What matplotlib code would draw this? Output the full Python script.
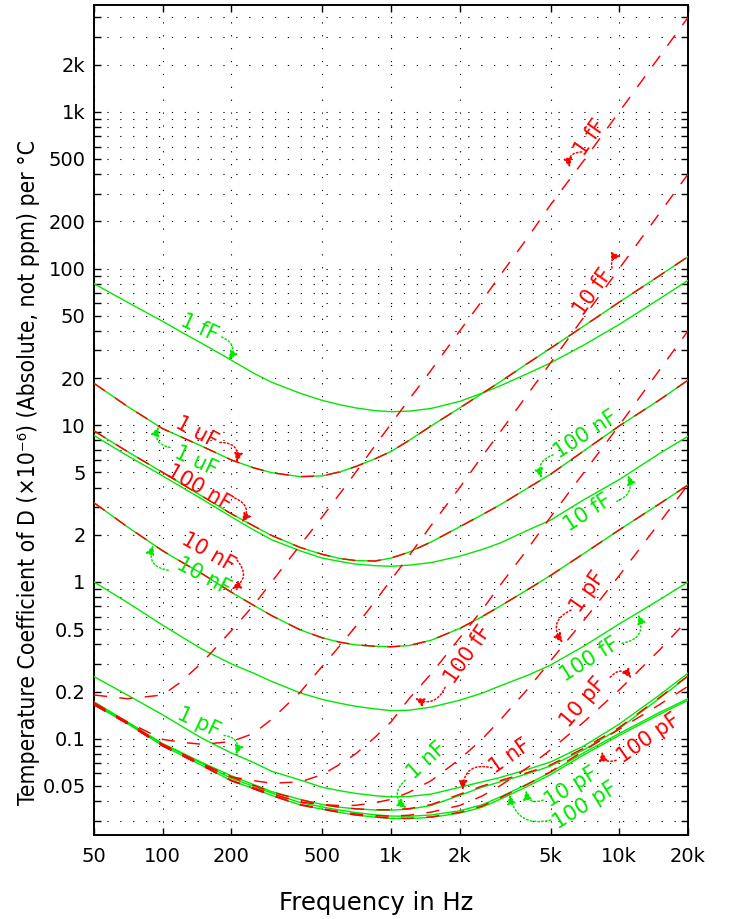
import matplotlib
matplotlib.use("Agg")
import matplotlib.pyplot as plt
from matplotlib.ticker import FixedLocator, FixedFormatter, NullLocator

freq = [50, 70, 100, 120, 150, 200, 250, 300, 400, 500, 600, 700, 850, 1000, 1200, 1500,
        2000, 2500, 3000, 4000, 5000, 7000, 10000, 15000, 20000]

# green (solid) curves
g_1fF = [80, 61, 46, 39.5, 33, 26, 21.5, 18.8, 16.0, 14.4, 13.5, 12.9, 12.4, 12.2, 12.3, 12.8,
         14.2, 16.0, 17.8, 21.5, 25, 32.5, 44, 64, 84]
g_10fF = [8.6, 6.4, 4.75, 4.06, 3.35, 2.6, 2.15, 1.86, 1.58, 1.42, 1.35, 1.3, 1.27, 1.26, 1.28, 1.33,
          1.46, 1.61, 1.77, 2.15, 2.48, 3.35, 4.5, 6.6, 8.5]
g_100fF = [1.0, 0.74, 0.53, 0.45, 0.37, 0.30, 0.262, 0.232, 0.196, 0.178, 0.168, 0.161, 0.155, 0.151, 0.152, 0.159,
           0.176, 0.195, 0.217, 0.255, 0.295, 0.39, 0.54, 0.77, 1.0]
g_1pF = [0.249, 0.19, 0.142, 0.121, 0.1, 0.081, 0.0705, 0.062, 0.0545, 0.049, 0.0465, 0.0448, 0.0433, 0.0425, 0.0428, 0.0443,
         0.049, 0.053, 0.0565, 0.064, 0.071, 0.09, 0.124, 0.19, 0.262]
g_10pF = [0.167, 0.127, 0.092, 0.081, 0.069, 0.0558, 0.0497, 0.045, 0.0391, 0.0367, 0.035, 0.0338, 0.0327, 0.0321, 0.032, 0.0326,
          0.0347, 0.0378, 0.0424, 0.0517, 0.061, 0.0815, 0.108, 0.147, 0.18]
g_100pF = [0.165, 0.125, 0.09, 0.079, 0.067, 0.054, 0.048, 0.0435, 0.0378, 0.0355, 0.0338, 0.0326, 0.0316, 0.031, 0.0309, 0.0315,
           0.0335, 0.0365, 0.041, 0.05, 0.059, 0.079, 0.105, 0.143, 0.176]
g_1nF = [0.172, 0.128, 0.093, 0.082, 0.07, 0.058, 0.051, 0.046, 0.041, 0.038, 0.0365, 0.0357, 0.0351, 0.035, 0.0355, 0.0375,
         0.0435, 0.049, 0.053, 0.06, 0.067, 0.085, 0.116, 0.181, 0.25]
g_10nF = [3.2, 2.25, 1.58, 1.35, 1.12, 0.86, 0.71, 0.61, 0.495, 0.44, 0.412, 0.397, 0.389, 0.386, 0.393, 0.425,
          0.505, 0.6, 0.7, 0.9, 1.1, 1.52, 2.15, 3.15, 4.16]
g_100nF = [9.2, 6.8, 5.0, 4.26, 3.5, 2.72, 2.28, 1.98, 1.66, 1.5, 1.41, 1.37, 1.36, 1.42, 1.55, 1.8,
           2.25, 2.68, 3.1, 4.0, 4.87, 6.87, 9.9, 14.5, 19.4]
g_1uF = [18.5, 13.2, 9.5, 8.44, 7.3, 6.0, 5.35, 4.98, 4.7, 4.75, 5.05, 5.45, 6.1, 6.8, 8.0, 9.9,
         12.9, 15.9, 18.9, 25, 31, 43, 61, 90, 119]

# red (dashed) curves
r_1fF = [0.19, 0.18, 0.19, 0.23, 0.31, 0.49, 0.71, 1.0, 1.72, 2.6, 3.7, 5.0, 7.4, 10.2, 14.6, 22.5,
         40, 62, 90, 160, 255, 490, 1000, 2250, 4000]
r_10fF = [0.168, 0.128, 0.099, 0.095, 0.092, 0.096, 0.108, 0.133, 0.198, 0.29, 0.395, 0.52, 0.75, 1.03, 1.47, 2.3,
          4.0, 6.3, 9.0, 16, 25, 49, 100, 225, 400]
r_100fF = [0.165, 0.125, 0.09, 0.079, 0.068, 0.057, 0.054, 0.052, 0.053, 0.059, 0.069, 0.08, 0.102, 0.128, 0.18, 0.26,
           0.44, 0.66, 0.95, 1.65, 2.6, 5.0, 10, 22.5, 40]
r_1pF = [0.165, 0.125, 0.09, 0.079, 0.067, 0.054, 0.0486, 0.0444, 0.0394, 0.038, 0.0374, 0.0376, 0.039, 0.041, 0.0455, 0.054,
         0.074, 0.099, 0.131, 0.21, 0.314, 0.57, 1.1, 2.39, 4.18]
r_10pF = [0.165, 0.125, 0.09, 0.079, 0.067, 0.054, 0.048, 0.0435, 0.038, 0.0358, 0.0342, 0.0331, 0.0323, 0.032, 0.0325, 0.034,
          0.0375, 0.043, 0.05, 0.066, 0.085, 0.128, 0.205, 0.368, 0.576]
r_100pF = [0.165, 0.125, 0.09, 0.079, 0.067, 0.054, 0.048, 0.0435, 0.0378, 0.0355, 0.0338, 0.0326, 0.0317, 0.0311, 0.0311, 0.0317,
           0.0339, 0.0371, 0.0419, 0.0516, 0.0615, 0.084, 0.115, 0.165, 0.216]
r_1nF = [0.17, 0.127, 0.092, 0.081, 0.069, 0.057, 0.0505, 0.0457, 0.0408, 0.038, 0.0365, 0.0357, 0.0352, 0.0352, 0.0358, 0.038,
         0.0442, 0.0498, 0.054, 0.061, 0.068, 0.087, 0.118, 0.183, 0.252]
# for the three largest capacitors both models coincide
r_10nF = g_10nF
r_100nF = g_100nF
r_1uF = g_1uF

green_curves = [g_1fF, g_10fF, g_100fF, g_1pF, g_10pF, g_100pF, g_1nF, g_10nF, g_100nF, g_1uF]
red_curves = [r_1fF, r_10fF, r_100fF, r_1pF, r_10pF, r_100pF, r_1nF, r_10nF, r_100nF, r_1uF]

x_ticks = [50, 100, 200, 500, 1000, 2000, 5000, 10000, 20000]
x_labels = ["50", "100", "200", "500", "1k", "2k", "5k", "10k", "20k"]
y_ticks = [0.05, 0.1, 0.2, 0.5, 1, 2, 5, 10, 20, 50, 100, 200, 500, 1000, 2000]
y_labels = ["0.05", "0.1", "0.2", "0.5", "1", "2", "5", "10", "20", "50", "100", "200", "500", "1k", "2k"]
y_minor = [m * 10.0 ** e for e in range(-2, 4) for m in range(1, 10)]
y_minor = [v for v in y_minor if 0.025 < v < 4900 and v not in y_ticks]

GREEN = "#00e800"
RED = "#ff0000"

# inline labels: text, colour, text centre (axes frac), rotation, arrow start (axes frac), arrow tip (data), arc
labels = [
    ("1 fF", GREEN, (0.177, 0.611), -25, (0.215, 0.600), (194, 26), -0.6),
    ("1 uF", GREEN, (0.172, 0.451), -25, (0.128, 0.467), (96, 9.8), -0.6),
    ("100 nF", GREEN, (0.827, 0.482), 33, (0.773, 0.458), (4570, 4.6), 0.5),
    ("10 fF", GREEN, (0.832, 0.388), 33, (0.880, 0.402), (10900, 4.8), 0.5),
    ("10 nF", GREEN, (0.184, 0.312), -28, (0.125, 0.319), (91, 1.72), -0.6),
    ("1 pF", GREEN, (0.177, 0.136), -25, (0.219, 0.120), (209, 0.079), -0.6),
    ("100 fF", GREEN, (0.835, 0.211), 32, (0.889, 0.231), (12100, 0.62), 0.6),
    ("1 nF", GREEN, (0.560, 0.090), 42, (0.524, 0.066), (1170, 0.036), 0.6),
    ("10 pF", GREEN, (0.803, 0.058), 32, (0.756, 0.042), (3900, 0.047), -0.6),
    ("100 pF", GREEN, (0.827, 0.036), 32, (0.769, 0.018), (3300, 0.044), -0.5),
    ("1 fF", RED, (0.835, 0.840), 55, (0.821, 0.823), (6080, 440), 0.6),
    ("10 fF", RED, (0.840, 0.654), 55, (0.872, 0.683), (10200, 120), -0.6),
    ("1 uF", RED, (0.173, 0.485), -28, (0.212, 0.473), (211, 5.8), -0.6),
    ("100 nF", RED, (0.176, 0.419), -30, (0.237, 0.406), (222, 2.4), -0.6),
    ("10 nF", RED, (0.192, 0.341), -30, (0.241, 0.331), (200, 0.9), -0.6),
    ("100 fF", RED, (0.630, 0.217), 55, (0.591, 0.178), (1273, 0.181), -0.5),
    ("1 pF", RED, (0.832, 0.293), 55, (0.803, 0.271), (5650, 0.41), 0.6),
    ("10 pF", RED, (0.823, 0.160), 50, (0.869, 0.190), (11300, 0.243), -0.6),
    ("100 pF", RED, (0.933, 0.117), 35, (0.879, 0.090), (8400, 0.083), -0.6),
    ("1 nF", RED, (0.700, 0.095), 35, (0.670, 0.081), (2060, 0.047), 0.6),
]

fig = plt.figure(figsize=(7.3, 9.19), dpi=100)
ax = fig.add_axes([94 / 730, 84 / 919, 594 / 730, 830 / 919])

for ys in green_curves:
    ax.plot(freq, ys, color=GREEN, linewidth=1.0, zorder=3)
for ys in red_curves:
    ax.plot(freq, ys, color=RED, linewidth=1.05, linestyle=(0, (9, 8.5)), zorder=4)

ax.set_xscale("log")
ax.set_yscale("log")
ax.set_xlim(50, 20000)
ax.set_ylim(0.0243, 4800)

ax.xaxis.set_major_locator(FixedLocator(x_ticks))
ax.xaxis.set_major_formatter(FixedFormatter(x_labels))
ax.xaxis.set_minor_locator(NullLocator())
ax.yaxis.set_major_locator(FixedLocator(y_ticks))
ax.yaxis.set_major_formatter(FixedFormatter(y_labels))
ax.yaxis.set_minor_locator(FixedLocator(y_minor))

ax.tick_params(which="both", direction="in", top=True, right=True, length=5, width=1, labelsize=14, pad=6)
ax.tick_params(axis="x", pad=9)
for s in ax.spines.values():
    s.set_linewidth(1.4)

grid_style = dict(color="black", linewidth=0.8, linestyle=(0, (1.1, 10.5)))
ax.grid(True, which="major", axis="both", **grid_style)
ax.grid(True, which="minor", axis="y", **grid_style)
ax.set_axisbelow(True)

ax.set_ylabel("Temperature Coefficient of D (×10\u207b\u2076) (Absolute, not ppm) per °C",
              family="DejaVu Sans", fontstretch="condensed", fontsize=16.5)
ax.yaxis.set_label_coords(-0.111, 0.437)
ax.yaxis.label.set_va("center")
fig.text(376 / 730, 1 - 903 / 919, "Frequency in Hz", ha="center", va="center", fontsize=17.5)

for text, col, centre, rot, start, tip, rad in labels:
    ax.text(centre[0], centre[1], text, color=col, fontsize=15, rotation=rot,
            ha="center", va="center", transform=ax.transAxes, rotation_mode="anchor", zorder=6)
    ax.annotate("", xy=tip, xycoords="data", xytext=start, textcoords="axes fraction",
                arrowprops=dict(arrowstyle="-|>,head_length=0.55,head_width=0.25", color=col,
                                linestyle=(0, (1, 1.5)), linewidth=1.1, shrinkA=0, shrinkB=0,
                                connectionstyle=f"arc3,rad={rad}"), zorder=6)

fig.savefig("out.png", dpi=100)
